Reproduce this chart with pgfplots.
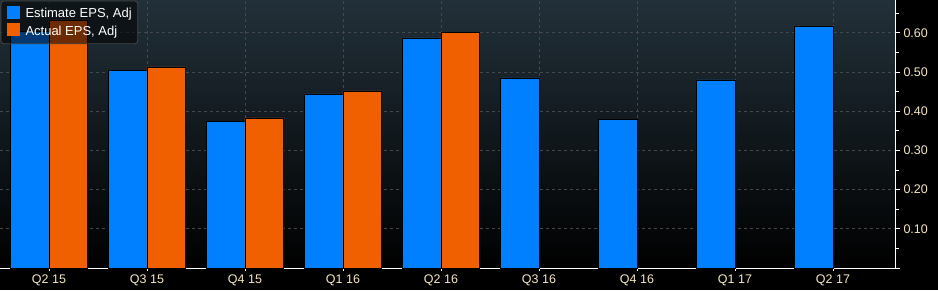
\documentclass[border=0pt]{standalone}
\usepackage{pgfplots}
\pgfplotsset{compat=1.18}
\usepackage{fontspec}
\setmainfont{Liberation Sans}
\definecolor{estblue}{RGB}{0,128,255}
\definecolor{actorange}{RGB}{240,96,0}
\definecolor{ticktext}{RGB}{245,230,196}
\definecolor{gridc}{RGB}{66,72,78}
\definecolor{bgtop}{RGB}{34,48,57}
\definecolor{bgmid}{RGB}{20,28,33}
\definecolor{legdraw}{RGB}{70,70,70}
\begin{document}
\begin{tikzpicture}
\fill[black] (0,0) rectangle (938pt,290pt);
\useasboundingbox (0,0) rectangle (938pt,290pt);
\begin{axis}[
  at={(0pt,22pt)}, anchor=south west,
  scale only axis, width=895pt, height=268pt,
  xmin=-0.5, xmax=8.633, ymin=0, ymax=0.6837,
  ybar, bar width=38.4pt,
  axis background/.style={top color=bgtop, middle color=bgmid, bottom color=black},
  axis x line*=bottom, axis y line*=right,
  axis line style={white, line width=0.8pt},
  xtick={0,1,2,3,4,5,6,7,8},
  xticklabels={Q2 15,Q3 15,Q4 15,Q1 16,Q2 16,Q3 16,Q4 16,Q1 17,Q2 17},
  ytick={0,0.1,0.2,0.3,0.4,0.5,0.6},
  yticklabels={{},0.10,0.20,0.30,0.40,0.50,0.60},
  minor ytick={0.05,0.15,0.25,0.35,0.45,0.55,0.65},
  tick style={white, line width=0.8pt},
  major tick length=5pt, minor tick length=4pt,
  tick align=outside, xtick align=center,
  grid=major,
  major grid style={gridc, dash pattern=on 3pt off 3pt, line width=0.7pt},
  minor grid style={draw=none},
  ticklabel style={font=\fontsize{12.5}{14}\selectfont, text=ticktext},
  xticklabel style={yshift=-1pt},
  /pgf/number format/assume math mode=true,
  legend style={at={(0,1)}, anchor=north west, xshift=0.5pt, yshift=-0.5pt,
    draw=legdraw, fill=black,
    fill opacity=0.55, text opacity=1, text=white, rounded corners=3pt,
    font=\fontsize{13}{15}\selectfont, inner xsep=4pt, inner ysep=5pt,
    row sep=2pt, line width=0.8pt, cells={anchor=west}},
  legend cell align=left,
  mylegend/.style={legend image code/.code={\path (-1pt,0pt) (17pt,0pt);\fill[##1, draw=none, fill opacity=1, sharp corners] (1pt,-5pt) rectangle (14pt,8pt);}},
]
\addplot[fill=estblue, draw=black, line width=0.6pt, bar shift=-19.2pt, mylegend]
  coordinates {(0,0.605) (1,0.505) (2,0.375) (3,0.444) (4,0.587) (5,0.485) (6,0.380) (7,0.480) (8,0.617)};
\addlegendentry{Estimate EPS, Adj}
\addplot[fill=actorange, draw=black, line width=0.6pt, bar shift=19.2pt, mylegend]
  coordinates {(0,0.633) (1,0.513) (2,0.383) (3,0.452) (4,0.602)};
\addlegendentry{Actual EPS, Adj}
\end{axis}
\end{tikzpicture}
\end{document}
